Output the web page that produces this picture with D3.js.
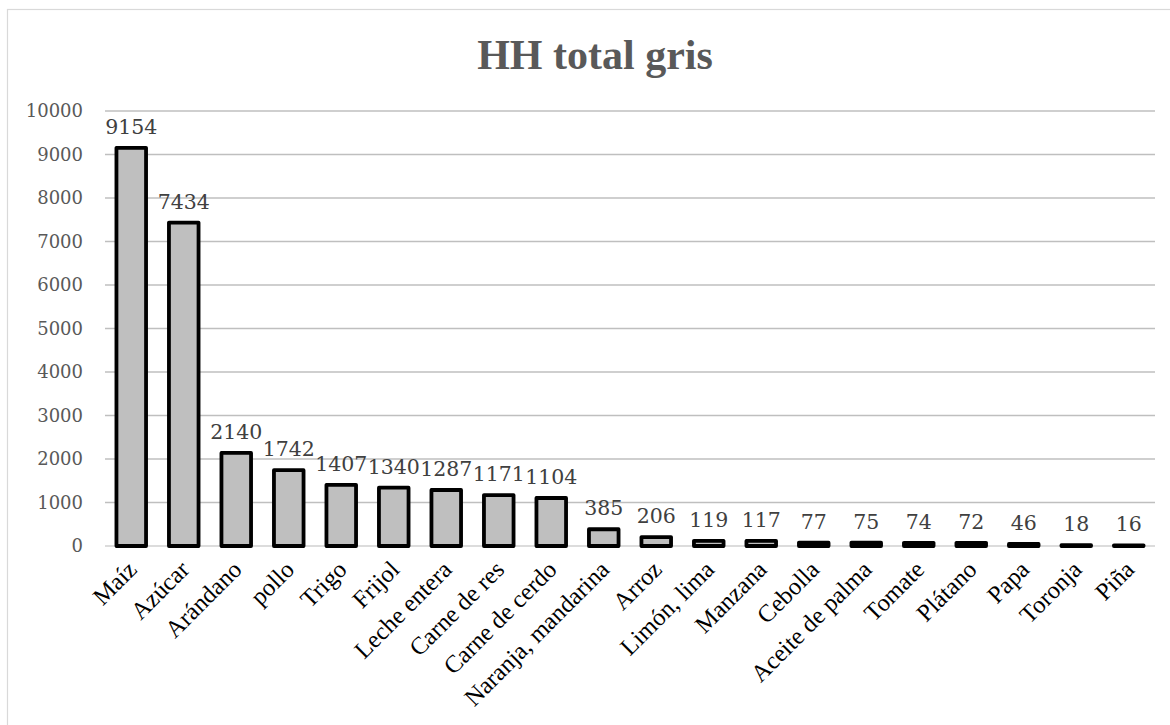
<!DOCTYPE html>
<html>
<head>
<meta charset="utf-8">
<script src="https://cdn.jsdelivr.net/npm/d3@7"></script>
<style>
  body { margin: 0; background: #fff; }
</style>
</head>
<body>
<svg id="chart"></svg>
<script>
const categories = ["Maíz", "Azúcar", "Arándano", "pollo", "Trigo", "Frijol", "Leche entera",
  "Carne de res", "Carne de cerdo", "Naranja, mandarina", "Arroz", "Limón, lima", "Manzana",
  "Cebolla", "Aceite de palma", "Tomate", "Plátano", "Papa", "Toronja", "Piña"];
const values = [9154, 7434, 2140, 1742, 1407, 1340, 1287, 1171, 1104, 385, 206, 119, 117,
  77, 75, 74, 72, 46, 18, 16];
const yTicks = [0, 1000, 2000, 3000, 4000, 5000, 6000, 7000, 8000, 9000, 10000];

const width = 1170;
const height = 725;
const margin = { top: 111, right: 15, bottom: 179, left: 105 };

const svg = d3.select("#chart").attr("width", width).attr("height", height);

// chart border
svg.append("rect")
  .attr("x", 7.5).attr("y", 9.5)
  .attr("width", width + 20).attr("height", height + 20)
  .attr("fill", "none")
  .attr("stroke", "#d9d9d9")
  .attr("stroke-width", 1.2);

// title
svg.append("text")
  .attr("x", 595).attr("y", 69)
  .attr("text-anchor", "middle")
  .style("font-family", "'Liberation Serif', 'Times New Roman', serif")
  .style("font-weight", "bold")
  .style("font-size", "42px")
  .attr("fill", "#595959")
  .text("HH total gris");

const x = d3.scaleBand()
  .domain(categories)
  .range([margin.left, width - margin.right])
  .paddingInner(0.36)
  .paddingOuter(0.18);

const y = d3.scaleLinear()
  .domain([0, 10000])
  .range([height - margin.bottom, margin.top]);

// gridlines
svg.append("g")
  .selectAll("line")
  .data(yTicks)
  .join("line")
  .attr("x1", margin.left).attr("x2", width - margin.right)
  .attr("y1", d => y(d)).attr("y2", d => y(d))
  .attr("stroke", d => d === 0 ? "#d0d0d0" : "#bfbfbf")
  .attr("stroke-width", 1.5);

// y axis labels
const yAxis = d3.axisLeft(y).tickValues(yTicks).tickFormat(d3.format("d")).tickSize(0).tickPadding(0);
const gy = svg.append("g")
  .attr("transform", `translate(${margin.left - 22},0)`)
  .call(yAxis);
gy.select(".domain").remove();
gy.selectAll("text")
  .style("font-family", "'DejaVu Serif', serif")
  .style("font-size", "18px")
  .attr("fill", "#595959");

// bars
svg.append("g")
  .selectAll("rect")
  .data(values)
  .join("rect")
  .attr("x", (d, i) => x(categories[i]) + 2)
  .attr("width", x.bandwidth() - 4)
  .attr("y", d => y(d))
  .attr("height", d => y(0) - y(d))
  .attr("fill", "#bfbfbf")
  .attr("stroke", "#000")
  .attr("stroke-width", 3.8)
  .attr("stroke-linejoin", "round");

// value labels
svg.append("g")
  .selectAll("text")
  .data(values)
  .join("text")
  .attr("x", (d, i) => x(categories[i]) + x.bandwidth() / 2)
  .attr("y", d => y(d) - 14)
  .attr("text-anchor", "middle")
  .style("font-family", "'DejaVu Serif', serif")
  .style("font-size", "20.5px")
  .attr("fill", "#404040")
  .text(d => d);

// x axis labels
const xAxis = d3.axisBottom(x).tickSize(0).tickPadding(0);
const gx = svg.append("g")
  .attr("transform", `translate(0,${y(0)})`)
  .call(xAxis);
gx.select(".domain").remove();
gx.selectAll("text")
  .style("font-family", "'Liberation Serif', 'Times New Roman', serif")
  .style("font-size", "24.5px")
  .attr("fill", "#000")
  .attr("text-anchor", "end")
  .attr("y", 0)
  .attr("dy", 0)
  .attr("transform", "translate(7,25) rotate(-45)");
</script>
</body>
</html>
